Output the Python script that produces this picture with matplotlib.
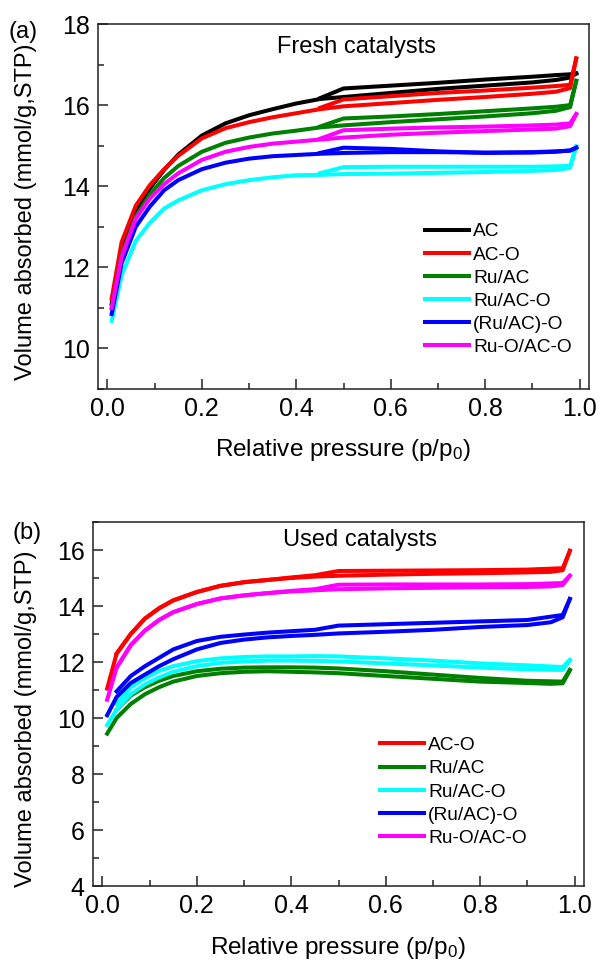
import matplotlib
matplotlib.use("Agg")
import matplotlib.pyplot as plt
from matplotlib.ticker import MultipleLocator

plt.rcParams['font.family'] = ['Liberation Sans', 'DejaVu Sans']
plt.rcParams['mathtext.default'] = 'regular'

# ---------------- Panel (a): fresh catalysts ----------------
P_ADS_A = [0.009, 0.03, 0.06, 0.09, 0.12, 0.15, 0.2, 0.25, 0.3, 0.35, 0.4,
           0.45, 0.5, 0.6, 0.7, 0.8, 0.9, 0.95, 0.98, 0.993]
P_DES_A = [0.993, 0.98, 0.95, 0.9, 0.8, 0.7, 0.6, 0.5, 0.45]

LABELS_A = ['AC', 'AC-O', 'Ru/AC', 'Ru/AC-O', '(Ru/AC)-O', 'Ru-O/AC-O']
COLORS_A = ['#000000', '#ff0000', '#008000', '#00ffff', '#0000ff', '#ff00ff']

ac_ads = [11.1, 12.5, 13.4, 13.95, 14.4, 14.78, 15.25, 15.55, 15.75, 15.9, 16.04,
          16.15, 16.2, 16.3, 16.4, 16.48, 16.56, 16.62, 16.68, 16.78]
ac_des = [16.78, 16.76, 16.74, 16.7, 16.63, 16.55, 16.48, 16.41, 16.17]
aco_ads = [11.23, 12.62, 13.52, 14.03, 14.42, 14.75, 15.18, 15.43, 15.58, 15.7, 15.8,
           15.9, 15.97, 16.05, 16.13, 16.2, 16.28, 16.33, 16.42, 17.15]
aco_des = [17.15, 16.5, 16.47, 16.43, 16.36, 16.3, 16.22, 16.14, 15.93]
ruac_ads = [11.0, 12.3, 13.25, 13.8, 14.2, 14.5, 14.85, 15.07, 15.2, 15.3, 15.37,
            15.45, 15.5, 15.58, 15.65, 15.72, 15.8, 15.86, 15.95, 16.6]
ruac_des = [16.6, 16.0, 15.96, 15.92, 15.85, 15.78, 15.72, 15.67, 15.47]
ruaco_ads = [10.68, 11.8, 12.65, 13.1, 13.45, 13.65, 13.9, 14.05, 14.15, 14.22, 14.27,
             14.28, 14.3, 14.31, 14.33, 14.35, 14.38, 14.4, 14.45, 14.98]
ruaco_des = [14.98, 14.5, 14.49, 14.48, 14.48, 14.48, 14.48, 14.47, 14.32]
ruac_o_ads = [10.85, 12.1, 13.0, 13.5, 13.9, 14.15, 14.42, 14.58, 14.68, 14.74, 14.77,
              14.8, 14.82, 14.84, 14.84, 14.83, 14.83, 14.85, 14.88, 14.95]
ruac_o_des = [14.95, 14.88, 14.86, 14.84, 14.82, 14.86, 14.92, 14.95, 14.82]
ruo_aco_ads = [11.0, 12.25, 13.2, 13.7, 14.05, 14.32, 14.65, 14.85, 14.97, 15.05, 15.1,
               15.15, 15.2, 15.27, 15.32, 15.36, 15.4, 15.42, 15.48, 15.78]
ruo_aco_des = [15.78, 15.55, 15.52, 15.5, 15.47, 15.45, 15.42, 15.38, 15.17]

ADS_A = [ac_ads, aco_ads, ruac_ads, ruaco_ads, ruac_o_ads, ruo_aco_ads]
DES_A = [ac_des, aco_des, ruac_des, ruaco_des, ruac_o_des, ruo_aco_des]

# ---------------- Panel (b): used catalysts ----------------
P_ADS_B = [0.01, 0.03, 0.06, 0.09, 0.12, 0.15, 0.2, 0.25, 0.3, 0.35, 0.4,
           0.45, 0.5, 0.6, 0.7, 0.8, 0.9, 0.95, 0.975, 0.99]
P_DES_B = [0.99, 0.975, 0.9, 0.8, 0.7, 0.6, 0.5, 0.45, 0.4, 0.35, 0.3,
           0.25, 0.2, 0.15, 0.12, 0.09, 0.06, 0.03]

LABELS_B = ['AC-O', 'Ru/AC', 'Ru/AC-O', '(Ru/AC)-O', 'Ru-O/AC-O']
COLORS_B = ['#ff0000', '#008000', '#00ffff', '#0000ff', '#ff00ff']

u_aco_ads = [11.05, 12.3, 13.0, 13.55, 13.92, 14.2, 14.5, 14.72, 14.85, 14.93, 15.0,
             15.05, 15.08, 15.12, 15.15, 15.17, 15.2, 15.22, 15.28, 15.97]
u_aco_des = [15.97, 15.35, 15.3, 15.28, 15.27, 15.26, 15.25, 15.1, 15.02, 14.93, 14.85,
             14.72, 14.5, 14.2, 13.92, 13.55, 13.0, 12.3]
u_ruac_ads = [9.44, 10.0, 10.5, 10.85, 11.1, 11.3, 11.5, 11.6, 11.65, 11.67, 11.65,
              11.63, 11.6, 11.5, 11.4, 11.3, 11.25, 11.22, 11.24, 11.7]
u_ruac_des = [11.72, 11.3, 11.33, 11.43, 11.55, 11.67, 11.77, 11.8, 11.81, 11.81, 11.8,
              11.76, 11.67, 11.5, 11.33, 11.1, 10.8, 10.3]
u_ruaco_ads = [9.75, 10.3, 10.85, 11.2, 11.45, 11.65, 11.85, 11.97, 12.02, 12.05, 12.05,
               12.04, 12.02, 11.95, 11.88, 11.8, 11.74, 11.72, 11.72, 12.05]
u_ruaco_des = [12.08, 11.82, 11.88, 11.95, 12.05, 12.13, 12.2, 12.21, 12.2, 12.2, 12.18,
               12.13, 12.03, 11.85, 11.68, 11.42, 11.1, 10.5]
u_ruac_o_ads = [10.1, 10.75, 11.25, 11.55, 11.85, 12.1, 12.45, 12.68, 12.8, 12.88, 12.93,
                12.97, 13.02, 13.08, 13.15, 13.25, 13.32, 13.42, 13.6, 14.25]
u_ruac_o_des = [14.25, 13.68, 13.5, 13.45, 13.4, 13.35, 13.3, 13.15, 13.1, 13.05, 12.98,
                12.9, 12.75, 12.45, 12.15, 11.85, 11.5, 10.95]
u_ruo_aco_ads = [10.65, 11.8, 12.6, 13.12, 13.5, 13.78, 14.07, 14.27, 14.38, 14.46, 14.52,
                 14.56, 14.6, 14.63, 14.65, 14.67, 14.68, 14.7, 14.75, 15.08]
u_ruo_aco_des = [15.08, 14.82, 14.78, 14.77, 14.77, 14.77, 14.76, 14.6, 14.54, 14.46, 14.38,
                 14.27, 14.07, 13.78, 13.5, 13.12, 12.6, 11.8]

ADS_B = [u_aco_ads, u_ruac_ads, u_ruaco_ads, u_ruac_o_ads, u_ruo_aco_ads]
DES_B = [u_aco_des, u_ruac_des, u_ruaco_des, u_ruac_o_des, u_ruo_aco_des]

W, H = 600, 963
fig = plt.figure(figsize=(W / 100, H / 100), dpi=100)


def axes_px(left, top, right, bottom):
    return fig.add_axes([left / W, 1 - bottom / H, (right - left) / W, (bottom - top) / H])


ax1 = axes_px(98, 24, 589, 389)
ax2 = axes_px(93, 522, 584, 886)

LW = 2.9
TICK_FS = 18
LABEL_FS = 17


def style(ax, ylim, ylabel_x, ylabel_y, xlabel_y):
    ax.set_xlim(-0.02, 1.02)
    ax.set_ylim(*ylim)
    ax.xaxis.set_major_locator(MultipleLocator(0.2))
    ax.xaxis.set_minor_locator(MultipleLocator(0.1))
    ax.yaxis.set_major_locator(MultipleLocator(2))
    ax.yaxis.set_minor_locator(MultipleLocator(1))
    ax.tick_params(which='both', direction='in', top=False, right=False,
                   labelsize=TICK_FS, width=1.1, color='#222222')
    ax.tick_params(which='major', length=7, pad=6)
    ax.tick_params(which='minor', length=4)
    ax.xaxis.set_major_formatter(matplotlib.ticker.FormatStrFormatter('%.1f'))
    for s in ax.spines.values():
        s.set_linewidth(1.1)
        s.set_color('#222222')
    ax.set_xlabel('Relative pressure (p/p$_0$)', fontsize=17.5)
    ax.set_ylabel('Volume absorbed (mmol/g,STP)', fontsize=LABEL_FS)
    ax.yaxis.set_label_coords(ylabel_x, ylabel_y)
    ax.xaxis.set_label_coords(0.5, xlabel_y)


for lab, col, ya, yd in zip(LABELS_A, COLORS_A, ADS_A, DES_A):
    ax1.plot(P_ADS_A, ya, color=col, lw=LW, label=lab, solid_joinstyle='round')
    ax1.plot(P_DES_A, yd, color=col, lw=LW, solid_joinstyle='round')
style(ax1, (9, 18), -0.124, 0.485, -0.132)
ax1.text(0.527, 0.937, 'Fresh catalysts', transform=ax1.transAxes,
         ha='center', va='center', fontsize=17)
ax1.legend(loc='upper left', bbox_to_anchor=(0.666, 0.455), frameon=False,
           fontsize=13.8, handlelength=2.3, handletextpad=0.2, labelspacing=0.3,
           borderpad=0, borderaxespad=0)

for lab, col, ya, yd in zip(LABELS_B, COLORS_B, ADS_B, DES_B):
    ax2.plot(P_ADS_B, ya, color=col, lw=LW, label=lab, solid_joinstyle='round')
    ax2.plot(P_DES_B, yd, color=col, lw=LW, solid_joinstyle='round')
style(ax2, (4, 17), -0.114, 0.46, -0.135)
ax2.text(0.544, 0.95, 'Used catalysts', transform=ax2.transAxes,
         ha='center', va='center', fontsize=17)
ax2.legend(loc='upper left', bbox_to_anchor=(0.585, 0.41), frameon=False,
           fontsize=13.8, handlelength=2.3, handletextpad=0.2, labelspacing=0.3,
           borderpad=0, borderaxespad=0)

fig.text(9 / W, 1 - 32 / H, '(a)', fontsize=17, ha='left', va='center')
fig.text(12 / W, 1 - 533 / H, '(b)', fontsize=17, ha='left', va='center')

fig.savefig('out.png', dpi=100)
